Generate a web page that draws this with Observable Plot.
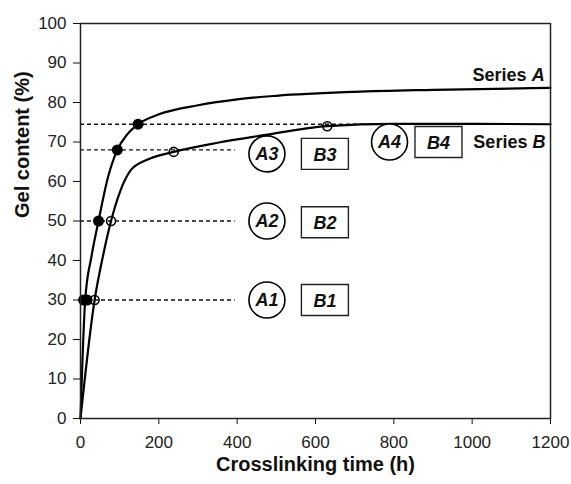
<!DOCTYPE html>
<html>
<head>
<meta charset="utf-8">
<script src="https://cdn.jsdelivr.net/npm/d3@7"></script>
<script src="https://cdn.jsdelivr.net/npm/@observablehq/plot@0.6"></script>
<style>
  html, body { margin: 0; padding: 0; background: #fff; }
  #chart g[aria-label^="x-axis"] text, #chart g[aria-label^="y-axis"] text { font-size: 17px; fill: #222; }
</style>
</head>
<body>
<div id="chart"></div>
<script>
// ---- Data ----
// Series A curve (time h, gel %)
const curveA_t = [0, 12, 28, 46, 70, 94, 120, 147, 200, 300, 400, 500, 700, 900, 1200];
const curveA_y = [0, 30, 41, 50, 61, 68, 72, 74.5, 77, 79.3, 80.8, 81.7, 82.7, 83.2, 83.7];
// Series B curve
const curveB_t = [0, 36, 55, 78, 102, 128, 170, 238, 350, 460, 630, 800, 1000, 1200];
const curveB_y = [0, 30, 40, 50, 57.7, 62.8, 65.5, 67.5, 69.8, 71.6, 74, 74.6, 74.6, 74.5];
// Marked points
const ptsA_t = [8, 17, 46, 94, 147];
const ptsA_y = [30, 30, 50, 68, 74.5];
const ptsB_t = [36, 78, 238, 630];
const ptsB_y = [30, 50, 67.5, 74];
// Dashed guide lines
const guideLevels = [30, 50, 68, 74.5];
const guideEnds = [395, 395, 395, 780];
// Circle labels (series A)
const labelsA = ["A1", "A2", "A3", "A4"];
const labelsA_t = [476, 476, 476, 789];
const labelsA_y = [30, 50, 67, 70];
// Box labels (series B)
const labelsB = ["B1", "B2", "B3", "B4"];
const labelsB_t = [624, 624, 624, 914];
const labelsB_y = [30, 49.7, 67, 70];
// Series names
const seriesNames = ["Series A", "Series B"];
const seriesName_t = [1185, 1187];
const seriesName_y = [87, 70];
// Axis ticks
const xTicks = [0, 200, 400, 600, 800, 1000, 1200];
const yTicks = [0, 10, 20, 30, 40, 50, 60, 70, 80, 90, 100];
const xTitle = "Crosslinking time (h)";
const yTitle = "Gel content (%)";

// ---- Build tables ----
const curveA = curveA_t.map((t, i) => ({t, y: curveA_y[i]}));
const curveB = curveB_t.map((t, i) => ({t, y: curveB_y[i]}));
const ptsA = ptsA_t.map((t, i) => ({t, y: ptsA_y[i]}));
const ptsB = ptsB_t.map((t, i) => ({t, y: ptsB_y[i]}));
const guides = guideLevels.map((y, i) => ({y, x2: guideEnds[i]}));
const labA = labelsA.map((s, i) => ({s, t: labelsA_t[i], y: labelsA_y[i]}));
const labB = labelsB.map((s, i) => ({s, t: labelsB_t[i], y: labelsB_y[i]}));
const names = seriesNames.map((s, i) => ({s, t: seriesName_t[i], y: seriesName_y[i]}));

// rectangle symbol for the B labels
const boxSymbol = {
  draw(ctx, size) {
    const w = 47, h = 31;
    ctx.moveTo(-w / 2, -h / 2);
    ctx.lineTo(w / 2, -h / 2);
    ctx.lineTo(w / 2, h / 2);
    ctx.lineTo(-w / 2, h / 2);
    ctx.closePath();
  }
};

const font = "'Liberation Sans', Arial, Helvetica, sans-serif";

const chart = Plot.plot({
  width: 571,
  height: 484,
  marginLeft: 80,
  marginRight: 21,
  marginTop: 23,
  marginBottom: 66,
  style: {fontFamily: font, fontSize: "17px", color: "#111", background: "#fff"},
  x: {domain: [0, 1200], ticks: xTicks, tickFormat: d => String(d), tickSize: 6, tickPadding: 11, label: null},
  y: {domain: [0, 100], ticks: yTicks, tickFormat: d => String(d), tickSize: 7, tickPadding: 7, label: null},
  marks: [
    Plot.ruleY(guides, {y: "y", x1: 0, x2: "x2", stroke: "#111", strokeWidth: 1.3, strokeDasharray: "4,3"}),
    Plot.line(curveA, {x: "t", y: "y", curve: "monotone-x", stroke: "#000", strokeWidth: 2.2}),
    Plot.line(curveB, {x: "t", y: "y", curve: "monotone-x", stroke: "#000", strokeWidth: 2.2}),
    Plot.dot(ptsA, {x: "t", y: "y", r: 5.5, fill: "#000", stroke: "none"}),
    Plot.dot(ptsB, {x: "t", y: "y", r: 4.5, fill: "none", stroke: "#000", strokeWidth: 1.6}),
    Plot.dot(labA, {x: "t", y: "y", r: 18, fill: "#fff", stroke: "#000", strokeWidth: 1.6}),
    Plot.text(labA, {x: "t", y: "y", text: "s", fontSize: 18, fontWeight: "bold", fontStyle: "italic", fill: "#111"}),
    Plot.dot(labB, {x: "t", y: "y", symbol: boxSymbol, r: 18, fill: "#fff", stroke: "#222", strokeWidth: 1.4}),
    Plot.text(labB, {x: "t", y: "y", text: "s", fontSize: 18, fontWeight: "bold", fontStyle: "italic", fill: "#111", dy: 1}),
    Plot.text(names, {x: "t", y: "y", text: "s", textAnchor: "end", fontSize: 18, fontWeight: "bold", fill: "#111"}),
    Plot.text([xTitle], {frameAnchor: "bottom", dy: 52, fontSize: 20, fontWeight: "bold", fill: "#111"}),
    Plot.text([yTitle], {frameAnchor: "left", dx: -58, dy: -3, rotate: -90, fontSize: 20, fontWeight: "bold", fill: "#111"}),
    Plot.frame({stroke: "#222", strokeWidth: 1.5})
  ]
});

// make the series letter italic
chart.querySelectorAll("text").forEach(el => {
  const s = el.textContent;
  if (s === "Series A" || s === "Series B") {
    el.textContent = "";
    const ns = "http://www.w3.org/2000/svg";
    const a = document.createElementNS(ns, "tspan");
    a.textContent = "Series ";
    const b = document.createElementNS(ns, "tspan");
    b.setAttribute("font-style", "italic");
    b.textContent = s.slice(-1);
    el.appendChild(a);
    el.appendChild(b);
  }
});

document.getElementById("chart").appendChild(chart);
</script>
</body>
</html>
